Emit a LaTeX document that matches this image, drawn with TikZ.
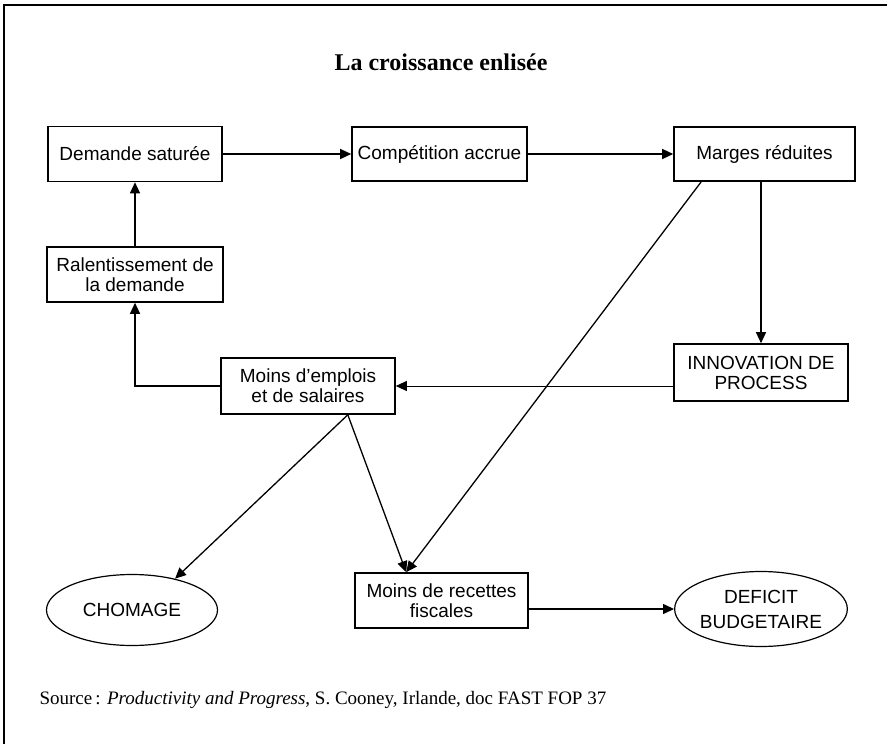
\documentclass[tikz,border=0pt]{standalone}
\usepackage{fontspec}
\setmainfont{Liberation Serif}
\setsansfont{Liberation Sans}
\usetikzlibrary{arrows.meta,shapes.geometric,calc}
\tikzset{
  box/.style={draw, line width=1.6pt, rectangle, inner sep=0pt, align=center,
    font=\sffamily\fontsize{19}{20}\selectfont},
  oval/.style={draw, line width=1.2pt, ellipse, inner sep=0pt, align=center,
    font=\sffamily\fontsize{19}{25}\selectfont},
  link/.style={line width=1.3pt, -{Triangle[length=11pt,width=10pt]}},
  thinlink/.style={line width=0.9pt, -{Triangle[length=11pt,width=10pt]}}
}
\begin{document}
\begin{tikzpicture}[x=1pt,y=-1pt]
\useasboundingbox (0,0) rectangle (887,744);
% frame (top and left rules)
\draw[line width=2pt] (4,744) -- (4,5) -- (887,5);
% title
\node[font=\rmfamily\bfseries\fontsize{24}{28}\selectfont] (title) at (441,62) {La croissance enlisée};
% boxes
\node[box, minimum width=174pt, minimum height=55pt] (dem) at (135,154) {Demande saturée};
\node[box, minimum width=175pt, minimum height=54pt] (comp) at (439.5,154) {Compétition accrue};
\node[box, minimum width=181pt, minimum height=54pt] (marg) at (764.5,154) {Marges réduites};
\node[box, minimum width=176pt, minimum height=55pt] (ral) at (135,274.5) {Ralentissement de\\la demande};
\node[box, minimum width=174pt, minimum height=56pt] (moins) at (308,386) {Moins d'emplois\\et de salaires};
\node[box, minimum width=174pt, minimum height=57pt] (innov) at (761,372.5) {INNOVATION DE\\PROCESS};
\node[box, minimum width=173pt, minimum height=55pt] (rec) at (441.5,600.5) {Moins de recettes\\fiscales};
% ovals
\node[oval, minimum width=171pt, minimum height=71pt] (chom) at (132,610) {CHOMAGE};
\node[oval, minimum width=171pt, minimum height=75pt] (def) at (761,609) {DEFICIT\\BUDGETAIRE};
% source line
\node[anchor=west, font=\rmfamily\fontsize{19}{22}\selectfont] (src) at (36,700)
  {Source\,: \textit{Productivity and Progress}, S. Cooney, Irlande, doc FAST FOP 37};
% connector end points
\coordinate (margfoot) at ($(marg.south west)+(28,0)$);
\coordinate (moinsfoot) at ($(moins.south east)+(-48,0)$);
\coordinate (rectop) at ($(rec.north west)+(52,0)$);
% connectors
\draw[link] (dem.east) -- (comp.west);
\draw[link] (comp.east) -- (marg.west);
\draw[link] (ral.north) -- (dem.south);
\draw[link] (moins.west) -| (ral.south);
\draw[link] (innov.north |- marg.south) -- (innov.north);
\draw[thinlink] (moins.east -| innov.west) -- (moins.east);
\draw[link] (margfoot) -- (rectop);
\draw[link] (moinsfoot) -- (rectop);
\draw[link] (moinsfoot) -- (chom.36);
\draw[link] (rec.east |- def.west) -- (def.west);
\end{tikzpicture}
\end{document}
